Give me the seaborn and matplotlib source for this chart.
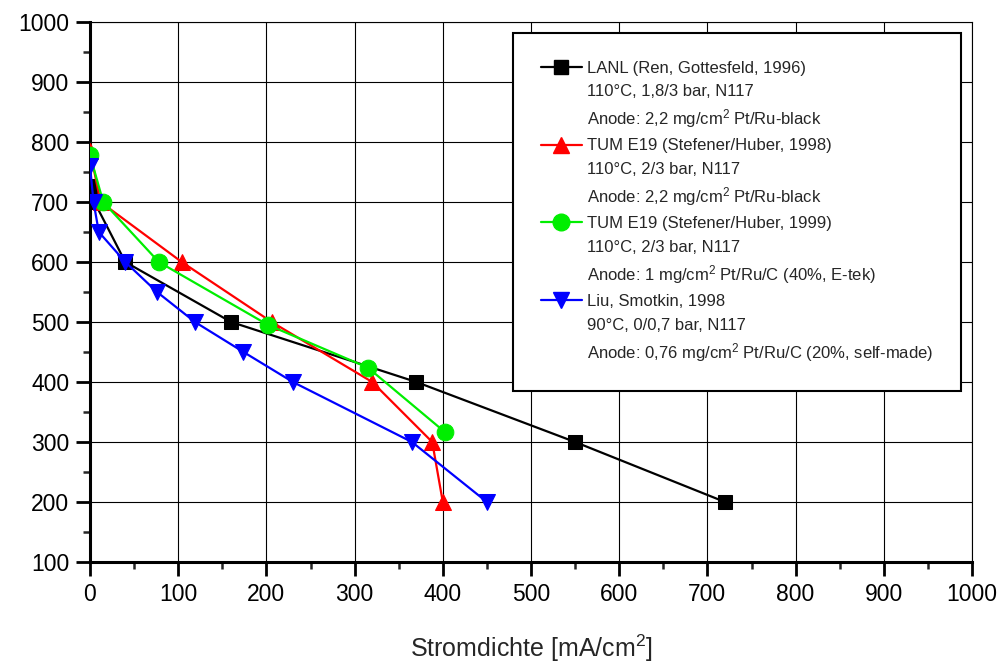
import matplotlib
matplotlib.use("Agg")
import matplotlib.pyplot as plt
from matplotlib.lines import Line2D
from matplotlib.ticker import MultipleLocator
import seaborn as sns
import pandas as pd

# ---- data ----
lanl_x = [0, 5, 40, 160, 370, 550, 720]
lanl_y = [727, 700, 600, 500, 400, 300, 200]

tum98_x = [0, 12, 104, 206, 320, 388, 400]
tum98_y = [785, 700, 600, 500, 400, 300, 200]

tum99_x = [0, 15, 78, 202, 315, 402]
tum99_y = [778, 700, 600, 495, 424, 317]

liu_x = [0, 4, 10, 40, 76, 119, 174, 230, 365, 450]
liu_y = [760, 700, 650, 600, 550, 500, 450, 400, 300, 200]

series_names = ["LANL (Ren, Gottesfeld, 1996)",
                "TUM E19 (Stefener/Huber, 1998)",
                "TUM E19 (Stefener/Huber, 1999)",
                "Liu, Smotkin, 1998"]
series_lines2 = ["110°C, 1,8/3 bar, N117",
                 "110°C, 2/3 bar, N117",
                 "110°C, 2/3 bar, N117",
                 "90°C, 0/0,7 bar, N117"]
series_lines3 = ["Anode: 2,2 mg/cm$^2$ Pt/Ru-black",
                 "Anode: 2,2 mg/cm$^2$ Pt/Ru-black",
                 "Anode: 1 mg/cm$^2$ Pt/Ru/C (40%, E-tek)",
                 "Anode: 0,76 mg/cm$^2$ Pt/Ru/C (20%, self-made)"]
x_label = "Stromdichte [mA/cm$^2$]"

sns.set_style("ticks")
plt.rcParams["font.family"] = ["Liberation Sans", "DejaVu Sans"]
plt.rcParams["mathtext.fontset"] = "custom"
plt.rcParams["mathtext.rm"] = "Liberation Sans"
plt.rcParams["mathtext.it"] = "Liberation Sans:italic"
plt.rcParams["mathtext.bf"] = "Liberation Sans:bold"

fig = plt.figure(figsize=(10.02, 6.64), dpi=100)
ax = fig.add_axes([90 / 1002, 1 - 562 / 664, 882 / 1002, 540 / 664])

styles = [
    (lanl_x, lanl_y, "black", "s", 10),
    (tum98_x, tum98_y, "#ff0000", "^", 12),
    (tum99_x, tum99_y, "#00ee00", "o", 12),
    (liu_x, liu_y, "#0000ff", "v", 12),
]
handles = []
for i, (xs, ys, col, mk, ms) in enumerate(styles):
    df = pd.DataFrame({"x": xs, "y": ys})
    sns.lineplot(data=df, x="x", y="y", ax=ax, sort=False, estimator=None,
                 color=col, marker=mk, markersize=ms, markeredgecolor=col,
                 linewidth=1.6, zorder=3 + i)
    handles.append(Line2D([], [], color=col, marker=mk, markersize=ms,
                          markeredgecolor=col, linewidth=1.6))

ax.set_xlim(0, 1000)
ax.set_ylim(100, 1000)
ax.xaxis.set_major_locator(MultipleLocator(100))
ax.xaxis.set_minor_locator(MultipleLocator(50))
ax.yaxis.set_major_locator(MultipleLocator(100))
ax.yaxis.set_minor_locator(MultipleLocator(50))
ax.grid(True, which="major", color="black", linewidth=0.8)
ax.set_axisbelow(True)

for s in ["left", "bottom"]:
    ax.spines[s].set_linewidth(2.2)
    ax.spines[s].set_color("black")
for s in ["top", "right"]:
    ax.spines[s].set_linewidth(0.8)
    ax.spines[s].set_color("black")

ax.tick_params(which="major", direction="out", length=10, width=2,
               labelsize=16.5, pad=5, colors="black")
ax.tick_params(which="minor", direction="out", length=5, width=1.8)
ax.set_ylabel("")
ax.set_xlabel(x_label, fontsize=18, labelpad=19)

# legend: each entry with two extra text rows
leg_handles, leg_labels = [], []
blank = Line2D([], [], linestyle="none")
for h, n, l2, l3 in zip(handles, series_names, series_lines2, series_lines3):
    leg_handles += [h, blank, blank]
    leg_labels += [n, l2, l3]

leg = ax.legend(leg_handles, leg_labels, loc="upper left",
                bbox_to_anchor=((513 - 90) / 882, (562 - 33) / 540),
                borderaxespad=0, frameon=True, fancybox=False, shadow=False,
                fontsize=12, handlelength=2.5, handletextpad=0.3,
                labelspacing=0.5, borderpad=1.65, framealpha=1)
leg.get_frame().set_edgecolor("black")
leg.get_frame().set_linewidth(1.5)
leg.set_zorder(10)

fig.savefig("out.png", dpi=100)
